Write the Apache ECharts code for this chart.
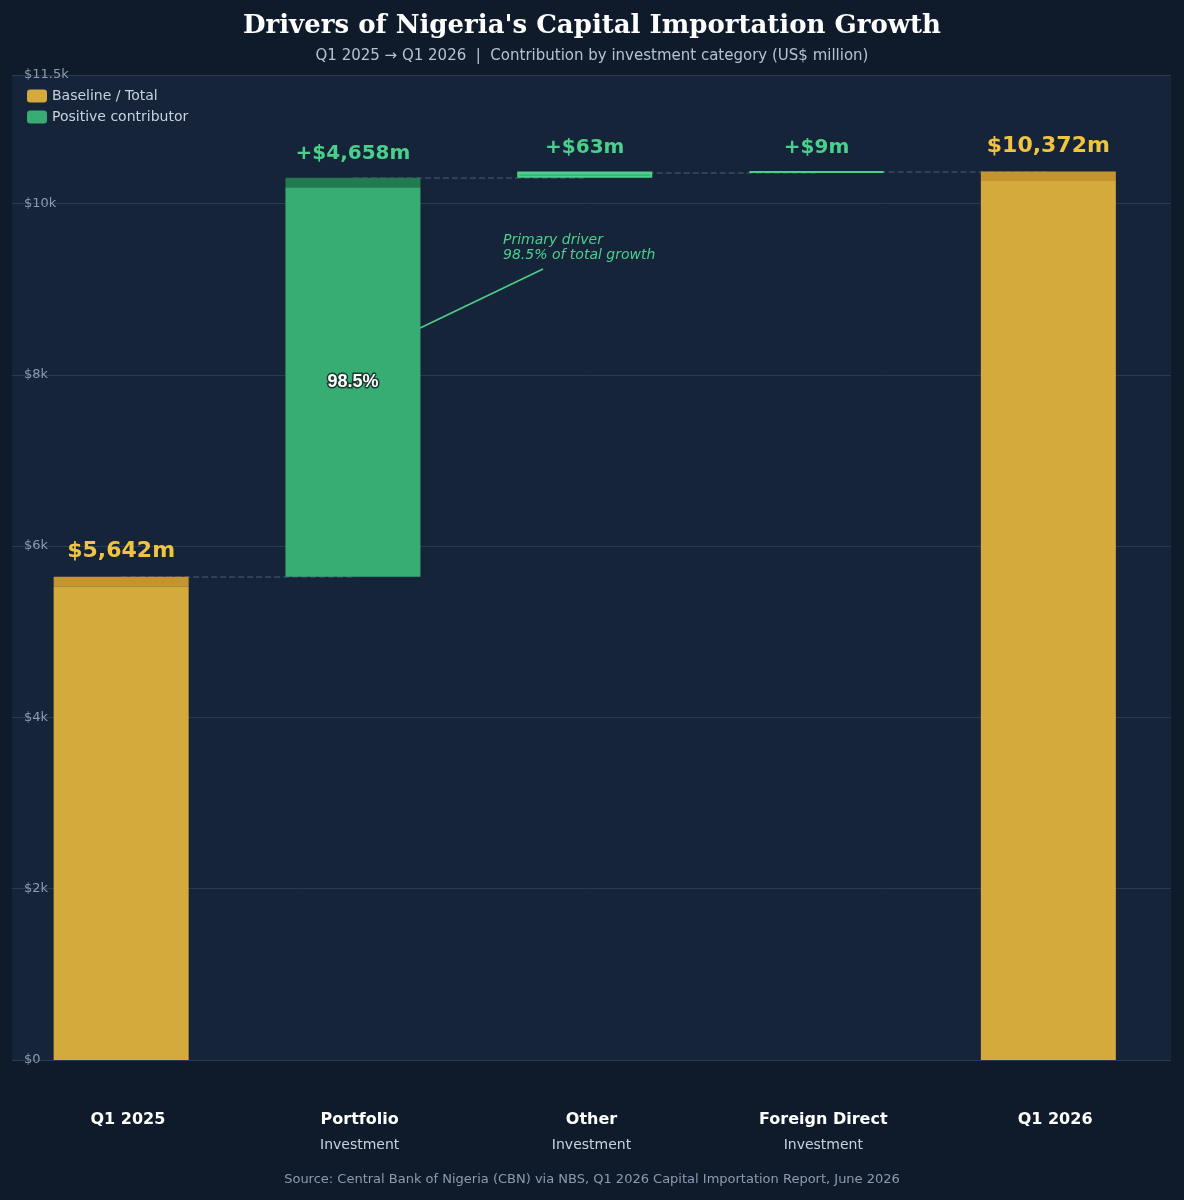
<!DOCTYPE html>
<html>
<head>
<meta charset="utf-8">
<script src="https://cdn.jsdelivr.net/npm/echarts@6/dist/echarts.min.js"></script>
<style>body{margin:0;background:#0f1b2a}</style>
</head>
<body>
<div id="main" style="width:1184px;height:1200px"></div>
<script>
var categories = ['Q1 2025', 'Portfolio', 'Other', 'Foreign Direct', 'Q1 2026'];
var subLabels = ['', 'Investment', 'Investment', 'Investment', ''];
var values = [5642, 4658, 63, 9, 10372];
var kinds = ['total', 'pos', 'pos', 'pos', 'total'];
var topLabels = ['$5,642m', '+$4,658m', '+$63m', '+$9m', '$10,372m'];

var GOLD = '#d5aa3c', GOLD_B = '#f0c343', GREEN = '#37ad73', GREEN_B = '#4bd08c';

// waterfall offsets
var base = [], body = [], cap = [], run = 0;
values.forEach(function (v, i) {
    if (kinds[i] === 'total') { base.push(0); run = v; }
    else { base.push(run); run += v; }
    var c = v > 1000 ? 110 : 0;
    body.push(v - c); cap.push(c);
});

var connectors = [];
for (var i = 0; i < values.length - 1; i++) {
    var lvl = base[i] + values[i];
    connectors.push([{ coord: [i, lvl] }, { coord: [i + 1, lvl] }]);
}

var myChart = echarts.init(document.getElementById('main'));
var option = {
    backgroundColor: '#0f1b2a',
    title: {
        text: "Drivers of Nigeria's Capital Importation Growth",
        subtext: 'Q1 2025 \u2192 Q1 2026  |  Contribution by investment category (US$ million)',
        left: 'center', top: 8, itemGap: 10,
        textStyle: { color: '#ffffff', fontFamily: 'DejaVu Serif', fontWeight: 'bold', fontSize: 26 },
        subtextStyle: { color: '#b5c2d2', fontFamily: 'DejaVu Sans', fontSize: 15 }
    },
    legend: {
        left: 22, top: 84, orient: 'vertical', itemWidth: 20, itemHeight: 13, itemGap: 7,
        textStyle: { color: '#c8d2de', fontSize: 14, fontFamily: 'DejaVu Sans' },
        data: [
            { name: 'Baseline / Total', itemStyle: { color: GOLD } },
            { name: 'Positive contributor', itemStyle: { color: GREEN } }
        ]
    },
    grid: { left: 12, right: 13, top: 75, bottom: 140, show: true, backgroundColor: '#16243a', borderWidth: 0 },
    xAxis: {
        type: 'category', data: categories,
        axisLine: { show: false }, axisTick: { show: false },
        axisLabel: {
            margin: 48,
            formatter: function (v, i) { return '{a|' + v + '}' + (subLabels[i] ? '\n{b|' + subLabels[i] + '}' : ''); },
            rich: {
                a: { color: '#ffffff', fontWeight: 'bold', fontSize: 16, fontFamily: 'DejaVu Sans', lineHeight: 24 },
                b: { color: '#c8d2de', fontSize: 14, fontFamily: 'DejaVu Sans', lineHeight: 26 }
            }
        }
    },
    yAxis: {
        type: 'value', min: 0, max: 11500, interval: 2000,
        axisLabel: {
            inside: true, color: '#8a9bb2', fontSize: 13, fontFamily: 'DejaVu Sans', margin: 12,
            formatter: function (v) { return v === 0 ? '$0' : '$' + v / 1000 + 'k'; },
            verticalAlign: 'middle'
        },
        splitLine: { lineStyle: { color: '#2a3a55', width: 1 } },
        axisLine: { show: false }, axisTick: { show: false }
    },
    series: [
        {
            name: 'base', type: 'bar', stack: 'w', barWidth: 135, silent: true,
            itemStyle: { color: 'transparent' }, data: base,
            markLine: {
                symbol: 'none', silent: true, z: 1,
                lineStyle: { color: '#3a4a63', type: 'dashed', width: 1.5 },
                label: { show: false }, data: connectors
            }
        },
        {
            name: 'body', type: 'bar', stack: 'w', barWidth: 135,
            data: body.map(function (v, i) {
                var t = kinds[i] === 'total';
                return {
                    value: v,
                    itemStyle: { color: t ? GOLD : GREEN, borderColor: t ? GOLD_B : GREEN_B, borderWidth: cap[i] ? 0 : 2 },
                    label: i === 1 ? {
                        show: true, position: 'inside', formatter: '98.5%', color: '#ffffff', fontWeight: 'bold',
                        fontSize: 18, textBorderColor: '#1b3a2c', textBorderWidth: 3
                    } : { show: false }
                };
            })
        },
        {
            name: 'cap', type: 'bar', stack: 'w', barWidth: 135,
            data: cap.map(function (v, i) {
                var t = kinds[i] === 'total';
                return { value: v, itemStyle: { color: t ? '#c4952f' : '#237a4e', borderColor: t ? GOLD_B : GREEN_B, borderWidth: 0 } };
            }),
            label: {
                show: true, position: 'top', distance: 14,
                formatter: function (p) { return topLabels[p.dataIndex]; },
                color: GREEN_B, fontWeight: 'bold', fontSize: 20, fontFamily: 'DejaVu Sans'
            },
            labelLayout: function (p) { return {}; }
        },
        { name: 'Baseline / Total', type: 'bar', data: [] },
        { name: 'Positive contributor', type: 'bar', data: [] }
    ],
    graphic: [
        {
            type: 'text', left: 503, top: 233,
            style: { text: 'Primary driver\n98.5% of total growth', fill: GREEN_B, font: 'italic 14px DejaVu Sans', lineHeight: 15 }
        },
        {
            type: 'line', shape: { x1: 543, y1: 269, x2: 366, y2: 354 },
            style: { stroke: GREEN_B, lineWidth: 1.5 }
        },
        {
            type: 'polygon', shape: { points: [[364, 355], [375, 345], [378, 352]] },
            style: { fill: GREEN_B }
        },
        {
            type: 'text', left: 'center', top: 1173,
            style: { text: 'Source: Central Bank of Nigeria (CBN) via NBS, Q1 2026 Capital Importation Report, June 2026', fill: '#8a9bb2', font: '13px DejaVu Sans' }
        }
    ]
};
// gold colored total labels
option.series[2].data = option.series[2].data.map(function (d, i) {
    if (kinds[i] === 'total') d.label = { color: GOLD_B, fontSize: 22 };
    return d;
});
option.series[2].data[2].itemStyle = { color: GREEN, borderColor: GREEN_B, borderWidth: 2 };
myChart.setOption(option);
</script>
</body>
</html>
